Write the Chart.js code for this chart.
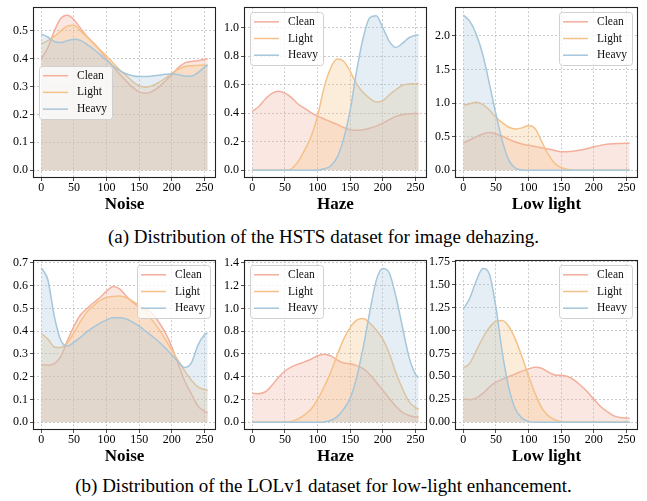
<!DOCTYPE html>
<html><head><meta charset="utf-8">
<script src="https://cdn.jsdelivr.net/npm/chart.js@4/dist/chart.umd.min.js"></script>
<style>
html,body{margin:0;padding:0;background:#fff;width:647px;height:501px;overflow:hidden;position:relative;font-family:'Liberation Serif',serif;}
canvas{position:absolute;}
.cap{position:absolute;left:0;width:647px;text-align:center;font-size:19px;color:#000;line-height:22px;white-space:nowrap;}
</style></head><body>
<canvas id="c1" width="224" height="217" style="left:0px;top:-2px"></canvas>
<canvas id="c2" width="224" height="217" style="left:211px;top:-2px"></canvas>
<canvas id="c3" width="224" height="217" style="left:422px;top:-2px"></canvas>
<canvas id="c4" width="224" height="216" style="left:0px;top:251px"></canvas>
<canvas id="c5" width="224" height="216" style="left:211px;top:251px"></canvas>
<canvas id="c6" width="224" height="216" style="left:422px;top:251px"></canvas>
<div class="cap" style="top:226px">(a) Distribution of the HSTS dataset for image dehazing.</div>
<div class="cap" style="top:475px">(b) Distribution of the LOLv1 dataset for low-light enhancement.</div>
<script>
// ---------- data ----------
const xs = [0,10,20,30,40,50,60,70,80,90,100,110,120,130,140,150,160,170,180,190,200,210,220,230,240,250,255];
const xTicks = [0,50,100,150,200,250];
const seriesNames = ['Clean','Light','Heavy'];

// (a) HSTS
const hstsNoiseClean = [0.40,0.44,0.50,0.545,0.556,0.54,0.51,0.48,0.457,0.43,0.40,0.372,0.345,0.32,0.297,0.281,0.276,0.283,0.298,0.32,0.342,0.368,0.385,0.39,0.393,0.397,0.40];
const hstsNoiseLight = [0.454,0.465,0.48,0.50,0.518,0.52,0.50,0.478,0.455,0.432,0.41,0.385,0.36,0.34,0.318,0.303,0.298,0.303,0.315,0.33,0.348,0.362,0.372,0.375,0.376,0.377,0.377];
const hstsNoiseHeavy = [0.489,0.478,0.462,0.458,0.465,0.47,0.466,0.452,0.435,0.415,0.394,0.374,0.358,0.346,0.339,0.336,0.336,0.338,0.341,0.344,0.346,0.343,0.338,0.337,0.35,0.37,0.377];

const hstsHazeClean = [0.414,0.447,0.50,0.54,0.555,0.541,0.51,0.465,0.435,0.405,0.38,0.36,0.34,0.322,0.30,0.284,0.28,0.284,0.295,0.31,0.331,0.355,0.378,0.39,0.395,0.398,0.398];
const hstsHazeLight = [0,0,0,0,0,0,0.01,0.06,0.14,0.235,0.38,0.58,0.716,0.78,0.765,0.694,0.604,0.545,0.505,0.479,0.488,0.53,0.565,0.597,0.605,0.608,0.608];
const hstsHazeHeavy = [0,0,0,0,0,0,0,0,0,0,0,0.01,0.03,0.09,0.22,0.42,0.70,0.93,1.07,1.085,1.0,0.905,0.862,0.89,0.93,0.948,0.95];

const hstsLowClean = [0.405,0.45,0.50,0.54,0.562,0.54,0.505,0.46,0.42,0.39,0.371,0.352,0.333,0.315,0.295,0.276,0.276,0.285,0.30,0.322,0.348,0.37,0.388,0.395,0.398,0.40,0.40];
const hstsLowLight = [0.967,0.99,1.01,0.976,0.895,0.786,0.705,0.64,0.615,0.63,0.667,0.62,0.43,0.24,0.105,0.04,0.01,0,0,0,0,0,0,0,0,0,0];
const hstsLowHeavy = [2.31,2.214,2.02,1.714,1.286,0.833,0.43,0.143,0.033,0.005,0,0,0,0,0,0,0,0,0,0,0,0,0,0,0,0,0];

// (b) LOLv1
const lolNoiseClean = [0.254,0.251,0.258,0.289,0.359,0.422,0.471,0.50,0.525,0.548,0.576,0.597,0.586,0.555,0.528,0.506,0.497,0.478,0.44,0.394,0.331,0.255,0.18,0.125,0.072,0.048,0.043];
const lolNoiseLight = [0.39,0.366,0.331,0.328,0.35,0.394,0.443,0.485,0.512,0.534,0.548,0.553,0.555,0.548,0.532,0.513,0.485,0.448,0.41,0.365,0.317,0.27,0.225,0.185,0.156,0.144,0.142];
const lolNoiseHeavy = [0.678,0.626,0.464,0.359,0.335,0.352,0.373,0.398,0.418,0.436,0.45,0.459,0.459,0.454,0.44,0.422,0.40,0.378,0.354,0.326,0.296,0.265,0.241,0.261,0.338,0.384,0.393];

const lolHazeClean = [0.254,0.251,0.268,0.324,0.394,0.45,0.486,0.51,0.53,0.553,0.584,0.598,0.584,0.548,0.52,0.514,0.497,0.47,0.42,0.352,0.282,0.21,0.14,0.087,0.06,0.047,0.045];
const lolHazeLight = [0,0,0,0,0,0,0.008,0.03,0.065,0.115,0.198,0.31,0.436,0.59,0.73,0.833,0.897,0.91,0.87,0.81,0.729,0.604,0.436,0.296,0.184,0.129,0.115];
const lolHazeHeavy = [0,0,0,0,0,0,0,0,0,0,0,0.003,0.015,0.05,0.115,0.212,0.394,0.659,0.967,1.246,1.35,1.31,1.106,0.841,0.576,0.422,0.394];

const lolLowClean = [0.252,0.246,0.263,0.315,0.384,0.436,0.47,0.498,0.527,0.557,0.581,0.598,0.588,0.547,0.515,0.512,0.498,0.46,0.40,0.332,0.252,0.175,0.12,0.073,0.053,0.046,0.045];
const lolLowLight = [0.591,0.643,0.782,0.92,1.031,1.10,1.108,1.04,0.90,0.71,0.505,0.315,0.159,0.073,0.028,0.007,0,0,0,0,0,0,0,0,0,0,0];
const lolLowHeavy = [1.231,1.352,1.543,1.674,1.612,1.249,0.747,0.367,0.142,0.045,0.01,0,0,0,0,0,0,0,0,0,0,0,0,0,0,0,0];

const yTicksHstsNoise = [0,0.1,0.2,0.3,0.4,0.5];
const yTicksHstsHaze = [0,0.2,0.4,0.6,0.8,1.0];
const yTicksHstsLow = [0,0.5,1.0,1.5,2.0];
const yTicksLolNoise = [0,0.1,0.2,0.3,0.4,0.5,0.6,0.7];
const yTicksLolHaze = [0,0.2,0.4,0.6,0.8,1.0,1.2,1.4];
const yTicksLolLow = [0,0.25,0.5,0.75,1.0,1.25,1.5,1.75];

// ---------- styles ----------
const lineColors = ['rgb(243,174,156)','rgb(244,194,136)','rgb(166,198,218)'];
const fillColors = ['rgba(243,174,156,0.3)','rgba(244,194,136,0.3)','rgba(166,198,218,0.3)'];
Chart.defaults.font.family = "'Liberation Serif', serif";

const panels = [
  {id:'c1', title:'Noise', series:[hstsNoiseClean,hstsNoiseLight,hstsNoiseHeavy], yTicks:yTicksHstsNoise, yMin:-0.028, yMax:0.585, dec:1, legend:'center left'},
  {id:'c2', title:'Haze', series:[hstsHazeClean,hstsHazeLight,hstsHazeHeavy], yTicks:yTicksHstsHaze, yMin:-0.0545, yMax:1.1445, dec:1, legend:'upper left'},
  {id:'c3', title:'Low light', series:[hstsLowClean,hstsLowLight,hstsLowHeavy], yTicks:yTicksHstsLow, yMin:-0.1155, yMax:2.4255, dec:1, legend:'upper right'},
  {id:'c4', title:'Noise', series:[lolNoiseClean,lolNoiseLight,lolNoiseHeavy], yTicks:yTicksLolNoise, yMin:-0.0339, yMax:0.712, dec:1, legend:'upper right'},
  {id:'c5', title:'Haze', series:[lolHazeClean,lolHazeLight,lolHazeHeavy], yTicks:yTicksLolHaze, yMin:-0.0678, yMax:1.4228, dec:1, legend:'upper left'},
  {id:'c6', title:'Low light', series:[lolLowClean,lolLowLight,lolLowHeavy], yTicks:yTicksLolLow, yMin:-0.084, yMax:1.764, dec:2, legend:'upper right'}
];

const framePlugin = {
  id:'frameLegend',
  afterDraw(chart, args, opts){
    const ca = chart.chartArea, ctx = chart.ctx;
    ctx.save();
    // spines
    ctx.strokeStyle = '#222'; ctx.lineWidth = 1.1;
    ctx.strokeRect(Math.round(ca.left)+0.5, Math.round(ca.top)+0.5, Math.round(ca.right-ca.left)-1, Math.round(ca.bottom-ca.top)-1);
    // legend
    const loc = opts.loc || 'upper left';
    const W = 73, H = 53, padX = 6, padY = 5;
    const x = loc.includes('left') ? ca.left + padX : ca.right - padX - W;
    const y = loc.startsWith('upper') ? ca.top + padY : (ca.top + ca.bottom)/2 - H/2;
    ctx.beginPath();
    ctx.roundRect(Math.round(x)+0.5, Math.round(y)+0.5, W, H, 3);
    ctx.fillStyle = 'rgba(255,255,255,0.8)'; ctx.fill();
    ctx.strokeStyle = '#d0d0d0'; ctx.lineWidth = 1; ctx.stroke();
    chart.data.datasets.forEach((ds, i) => {
      const cy = y + 9.6 + i*16.7;
      ctx.beginPath(); ctx.moveTo(x+4, cy); ctx.lineTo(x+29, cy);
      ctx.strokeStyle = ds.borderColor; ctx.lineWidth = 1.5; ctx.stroke();
      ctx.fillStyle = '#111'; ctx.font = "11.5px 'Liberation Serif'";
      ctx.textBaseline = 'middle'; ctx.textAlign = 'left';
      ctx.fillText(ds.label, x+38, cy);
    });
    ctx.restore();
  }
};

function gridOpts(){
  return {color:'#bdbdbd', lineWidth:0.8, tickColor:'#222', tickLength:3, tickWidth:0.8, tickBorderDash:[]};
}

panels.forEach(p => {
  new Chart(document.getElementById(p.id), {
    type:'line',
    data:{
      datasets: p.series.map((s, i) => ({
        label: seriesNames[i],
        data: xs.map((x, j) => ({x: x, y: s[j]})),
        borderColor: lineColors[i],
        backgroundColor: fillColors[i],
        fill: 'origin',
        borderWidth: 1.5,
        pointRadius: 0,
        cubicInterpolationMode: 'monotone',
        order: 2 - i
      }))
    },
    options:{
      responsive:false, animation:false, devicePixelRatio:1,
      layout:{padding:{left:0, right:8, top:2, bottom:0}},
      plugins:{legend:{display:false}, tooltip:{enabled:false}, frameLegend:{loc:p.legend}},
      scales:{
        x:{
          type:'linear', min:-12.75, max:267.75,
          afterBuildTicks: s => { s.ticks = xTicks.map(v => ({value:v})); },
          afterFit: s => { s.height = 37; },
          ticks:{font:{size:12, lineHeight:1}, color:'#000', padding:1, maxRotation:0, autoSkip:false, callback: v => String(v)},
          grid: gridOpts(),
          border:{display:false, dash:[2,2]},
          title:{display:true, text:p.title, font:{size:17, weight:'bold'}, color:'#000', padding:0}
        },
        y:{
          type:'linear', min:p.yMin, max:p.yMax,
          afterBuildTicks: s => { s.ticks = p.yTicks.map(v => ({value:v})); },
          afterFit: s => { s.width = 33; },
          ticks:{font:{size:12}, color:'#000', padding:2, callback: v => Number(v).toFixed(p.dec)},
          grid: gridOpts(),
          border:{display:false, dash:[2,2]}
        }
      }
    },
    plugins:[framePlugin]
  });
});
</script>
</body></html>
